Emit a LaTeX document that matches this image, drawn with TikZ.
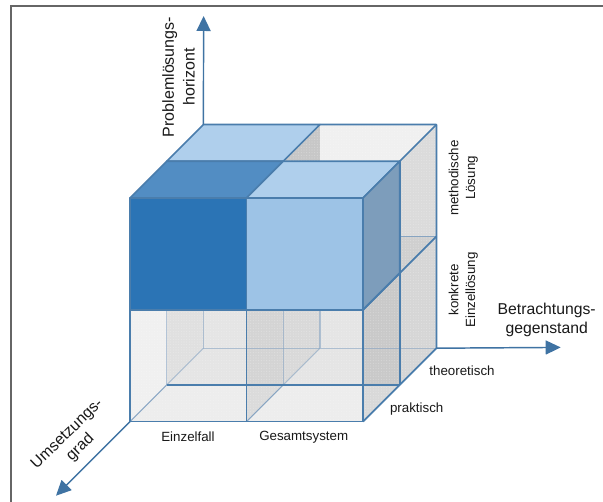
\documentclass[tikz,border=0pt]{standalone}
\usepackage{fontspec}
\setmainfont{Liberation Sans}
\usetikzlibrary{arrows.meta,patterns.meta}
\definecolor{edgeblue}{HTML}{4A7DAC}
\definecolor{axisblue}{HTML}{3F73A3}
\definecolor{dimblue}{HTML}{7F9FC0}
\definecolor{topdark}{HTML}{528DC3}
\definecolor{toplight}{HTML}{AFCFEC}
\definecolor{facedark}{HTML}{2B74B5}
\definecolor{facelight}{HTML}{9DC3E6}
\definecolor{sideblue}{HTML}{7D9DBB}
\tikzset{
  pane/.style={fill=black!#1,draw=none},
  stipple/.style={pattern={Dots[distance=2pt,radius=0.4pt]},pattern color=white,fill opacity=0.3,draw=none},
  edge/.style={draw=edgeblue,line width=1.3pt,line join=round},
  thinedge/.style={draw=edgeblue,line width=1pt,line join=round},
  dimedge/.style={draw=dimblue,line width=0.9pt,opacity=0.55},
  midedge/.style={draw=dimblue,line width=0.9pt,opacity=0.9},
  solidface/.style={edge},
  axis/.style={draw=axisblue,line width=1.1pt,-{Triangle[length=11.25pt,width=10.5pt]}},
  small/.style={font=\fontsize{10}{12.5}\selectfont,align=center,text=black!90,inner sep=0pt},
  big/.style={font=\fontsize{11.8}{14.25}\selectfont,align=center,text=black!90,inner sep=0pt},
}
\begin{document}
\begin{tikzpicture}[x=0.75pt,y=-0.75pt]
\useasboundingbox (0,0) rectangle (603,502);
\fill[white] (0,0) rectangle (603,502);
\coordinate (fa) at (11,502);
\coordinate (fb) at (11,6.5);
\coordinate (fc) at (603,6.5);
\draw[draw=black!60,line width=1.5pt] (fa) -- (fb) -- (fc);
\foreach \i in {0,1,2}{\foreach \d in {0,1,2}{\foreach \h in {0,1,2}{
  \coordinate (p\i\d\h) at ({130+116.5*\i+36.7*\d},{421.6-111.8*\h-36.7*\d});
}}}
\coordinate (q1) at (246.5,384.9);
\coordinate (q2) at (363,384.9);
% panes, back to front
\path[pane=7] (p000) -- (p200) -- (p210) -- (p010) -- cycle;
\path[pane=10] (p010) -- (p210) -- (p220) -- (p020) -- cycle;
\path[pane=10] (p020) -- (p220) -- (p221) -- (p021) -- cycle;
\path[pane=6] (p121) -- (p221) -- (p222) -- (p122) -- cycle;
\path[pane=12] (p010) -- (p020) -- (p021) -- (p011) -- cycle;
\path[pane=6] (p000) -- (p010) -- (p011) -- (p001) -- cycle;
\path[pane=9] (p011) -- (p021) -- (p121) -- (p111) -- cycle;
\path[pane=15] (p110) -- (p120) -- (p121) -- (p111) -- cycle;
\path[pane=17] (p100) -- (p110) -- (p111) -- (p101) -- cycle;
\path[pane=14] (p100) -- (p110) -- (q1) -- cycle;
\path[pane=21] (p200) -- (p210) -- (p211) -- (p201) -- cycle;
\path[pane=15] (p200) -- (p210) -- (q2) -- cycle;
\path[pane=16] (p210) -- (p220) -- (p221) -- (p211) -- cycle;
\path[pane=14] (p211) -- (p221) -- (p222) -- (p212) -- cycle;
\path[pane=22] (p111) -- (p121) -- (p122) -- (p112) -- cycle;
\path[pane=19] (p111) -- (p211) -- (p221) -- (p121) -- cycle;
% stipple
\path[stipple] (p000) -- (p200) -- (p220) -- (p222) -- (p122) -- (p112) -- (p002) -- cycle;
% faint inner lines
\draw[dimedge] (p011) -- (p010);
\draw[dimedge] (p021) -- (p020);
\draw[dimedge] (p111) -- (p110);
\draw[dimedge] (p121) -- (p120);
\draw[dimedge] (p020) -- (p220);
\draw[dimedge] (p010) -- (p020);
\draw[dimedge] (p110) -- (p120);
\draw[midedge] (p000) -- (p010);
\draw[midedge] (p100) -- (p110);
\draw[midedge] (p221) -- (p121);
% solid blocks
\path[solidface,fill=toplight] (p022) -- (p122) -- (p112) -- (p012) -- cycle;
\path[solidface,fill=topdark] (p012) -- (p112) -- (p102) -- (p002) -- cycle;
\path[solidface,fill=toplight] (p112) -- (p212) -- (p202) -- (p102) -- cycle;
\path[solidface,fill=sideblue] (p202) -- (p212) -- (p211) -- (p201) -- cycle;
\path[solidface,fill=facedark] (p001) -- (p101) -- (p102) -- (p002) -- cycle;
\path[solidface,fill=facelight] (p101) -- (p201) -- (p202) -- (p102) -- cycle;
% strong frame lines
\draw[edge] (p001) -- (p000) -- (p200) -- (p201);
\draw[edge] (p101) -- (p100);
\draw[thinedge] (p010) -- (p210);
\draw[edge] (p200) -- (p220) -- (p222) -- (p122);
\draw[edge] (p212) -- (p210);
\draw[edge] (p212) -- (p222);
\draw[edge] (p201) -- (p221);
% axes
\coordinate (zt) at (203.6,16);
\coordinate (xt) at (560.7,347.4);
\coordinate (yt) at (56,495.7);
\draw[axis] (p022) -- (zt);
\draw[axis] (p220) -- (xt);
\draw[axis] (p000) -- (yt);
% labels
\node[big,font=\fontsize{12}{15.5}\selectfont,rotate=90] (lz) at (178.5,77) {Problemlösungs-\\horizont};
\node[big,rotate=44] (ly) at (74,441) {Umsetzungs-\\grad};
\node[big] (lx) at (546.7,320) {Betrachtungs-\\gegenstand};
\node[small] (l1) at (188,437) {Einzelfall};
\node[small] (l2) at (303.7,437) {Gesamtsystem};
\node[small] (l3) at (416.7,408.7) {praktisch};
\node[small] (l4) at (462,371) {theoretisch};
\node[small,rotate=90] (l5) at (463.3,178) {methodische\\Lösung};
\node[small,rotate=90] (l6) at (463.3,290) {konkrete\\Einzellösung};
\end{tikzpicture}
\end{document}
